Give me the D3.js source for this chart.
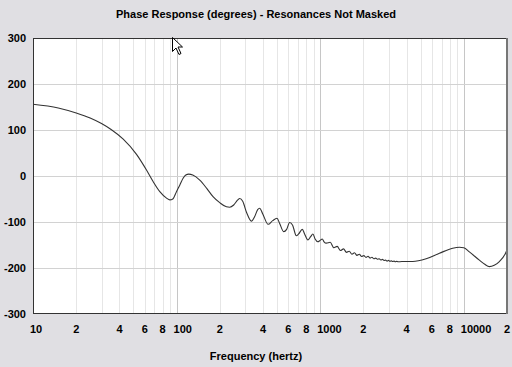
<!DOCTYPE html>
<html>
<head>
<meta charset="utf-8">
<script src="https://cdn.jsdelivr.net/npm/d3@7"></script>
<style>
	html, body { margin: 0; padding: 0; background: #e0dfe3; }
	svg { display: block; }
	text { font-family: "Liberation Sans", Arial, sans-serif; font-weight: bold; fill: #000; }
</style>
</head>
<body>
<div id="chart"></div>
<script>
'use strict';

// phase curve (hertz / degrees)
var freq = [10, 15, 20, 25, 30, 35, 42.5, 52.6, 61.7, 68.6, 76.4, 85.1, 89.7, 94.1, 99.8,
	105.2, 111, 115.9, 121.6, 129.6, 145, 162.2, 179.4, 199.7, 222.3, 234.4, 249.9, 266.5, 275.1,
	288.7, 307.7, 331.8, 349.9, 367, 379, 397.6, 434.2, 466.7, 500, 522, 556.8, 584, 612.8, 642.7,
	682, 707.6, 750.6, 779, 821, 857.6, 889.7, 921.5, 963.9, 998.4, 1034, 1064, 1103,
	1174, 1244, 1314, 1384, 1454, 1524, 1594, 1664, 1734, 1804, 1874, 1944, 2014, 2084, 2154, 2224,
	2294, 2364, 2434, 2504, 2574, 2644, 2714, 2784, 2854, 2924, 2994, 3064, 3134, 3204, 3274, 3344,
	3414, 3484, 3700, 4413, 5468, 6767, 8372, 9320, 10000, 10940, 12840, 14000, 15070, 16300,
	17690, 19780, 20000];
var phase = [156, 148, 137, 126, 114, 101, 80, 47, 13, -12, -34, -48, -52, -50, -34,
	-20, -5, 2, 4, 2, -9, -27, -45, -58, -67, -68, -63, -52, -49,
	-55, -80, -98, -88, -73, -70, -82, -105, -97, -92, -103, -121, -116, -101, -107,
	-130, -126, -116, -126, -139, -132, -126, -137, -143, -140, -137, -143, -146,
	-144, -156, -153, -162, -158.5, -166, -163.5, -170, -167, -172.5, -170, -175, -173, -177, -174.5, -178.5,
	-176.5, -180, -178.5, -181, -180, -182.5, -181.3, -183.8, -182.8, -185, -183.5, -185.5, -184.5, -186, -185, -186.5,
	-185.5, -186.5, -186, -186, -180, -168, -157, -155, -156, -165, -183, -192, -197, -194,
	-186, -164, -160];

var yTicks = [-300, -200, -100, 0, 100, 200, 300];
var xLabelValues = [10, 20, 40, 60, 80, 100, 200, 400, 600, 800, 1000, 2000, 4000, 6000, 8000, 10000, 20000];
var xLabels = ['10', '2', '4', '6', '8', '100', '2', '4', '6', '8', '1000', '2', '4', '6', '8', '10000', '2'];
var decades = [10, 100, 1000, 10000];

var title = 'Phase Response (degrees) - Resonances Not Masked';
var xTitle = 'Frequency (hertz)';

var width = 512, height = 367;
var margin = {top: 38, right: 5, bottom: 53, left: 33};

var svg = d3.select('#chart').append('svg')
	.attr('width', width)
	.attr('height', height);

var x = d3.scaleLog()
	.domain([10, 20000])
	.range([margin.left, width - margin.right]);
var y = d3.scaleLinear()
	.domain([-300, 300])
	.range([height - margin.bottom, margin.top]);

// plot area
svg.append('rect')
	.attr('x', margin.left)
	.attr('y', margin.top)
	.attr('width', x.range()[1] - margin.left)
	.attr('height', y.range()[0] - margin.top)
	.attr('fill', '#fff');

// vertical grid: every 1..9 per decade
var gridVals = [];
decades.forEach(function (d) {
	for (var k = 1; k < 10; k++) {
		if (d * k > 10 && d * k < 20000) gridVals.push(d * k);
	}
});
svg.append('g').selectAll('line')
	.data(gridVals)
	.enter().append('line')
	.attr('x1', function (d) { return Math.round(x(d)) + 0.5; })
	.attr('x2', function (d) { return Math.round(x(d)) + 0.5; })
	.attr('y1', margin.top)
	.attr('y2', y.range()[0])
	.attr('stroke', function (d) { return decades.indexOf(d) >= 0 ? '#c6c6c6' : '#e6e6e6'; })
	.attr('stroke-width', 1);

// horizontal grid
svg.append('g').selectAll('line')
	.data(yTicks.filter(function (d) { return d > -300 && d < 300; }))
	.enter().append('line')
	.attr('x1', margin.left)
	.attr('x2', x.range()[1])
	.attr('y1', function (d) { return Math.round(y(d)) + 0.5; })
	.attr('y2', function (d) { return Math.round(y(d)) + 0.5; })
	.attr('stroke', '#d2d2d2')
	.attr('stroke-width', 1);

// the curve
var pts = freq.map(function (f, i) { return [f, phase[i]]; });
var line = d3.line()
	.x(function (d) { return x(d[0]); })
	.y(function (d) { return y(d[1]); })
	.curve(d3.curveMonotoneX);
svg.append('path')
	.datum(pts)
	.attr('d', line)
	.attr('fill', 'none')
	.attr('stroke', '#333')
	.attr('stroke-width', 1.1);

// border
svg.append('rect')
	.attr('x', margin.left + 0.5)
	.attr('y', margin.top + 0.5)
	.attr('width', x.range()[1] - margin.left - 1)
	.attr('height', y.range()[0] - margin.top - 1)
	.attr('fill', 'none')
	.attr('stroke', '#333');
svg.append('line')
	.attr('x1', x.range()[1]).attr('x2', x.range()[1])
	.attr('y1', margin.top).attr('y2', y.range()[0])
	.attr('stroke', '#777')
	.attr('stroke-width', 2);

// y labels
svg.append('g').selectAll('text')
	.data(yTicks)
	.enter().append('text')
	.attr('x', 26)
	.attr('y', function (d) { return y(d) + 4; })
	.attr('text-anchor', 'end')
	.style('font-size', '11px')
	.text(function (d) { return d; });

// x labels
svg.append('g').selectAll('text')
	.data(xLabelValues)
	.enter().append('text')
	.attr('x', function (d) { return decades.indexOf(d) >= 0 ? x(d) - 3 : x(d); })
	.attr('y', 333)
	.attr('text-anchor', function (d) { return decades.indexOf(d) >= 0 ? 'start' : 'middle'; })
	.style('font-size', '11px')
	.text(function (d, i) { return xLabels[i]; });

svg.append('text')
	.attr('x', 256)
	.attr('y', 18)
	.attr('text-anchor', 'middle')
	.style('font-size', '11px')
	.text(title);

svg.append('text')
	.attr('x', 256)
	.attr('y', 360)
	.attr('text-anchor', 'middle')
	.style('font-size', '11px')
	.text(xTitle);

// mouse pointer seen in the screenshot
svg.append('path')
	.attr('d', 'M0,0 L0,14 L3.5,10.5 L6.5,17 L8.5,16 L5.5,9.5 L10,9.5 Z')
	.attr('transform', 'translate(172.5,37.5)')
	.attr('fill', '#fff')
	.attr('stroke', '#000')
	.attr('stroke-width', 1);
</script>
</body>
</html>
